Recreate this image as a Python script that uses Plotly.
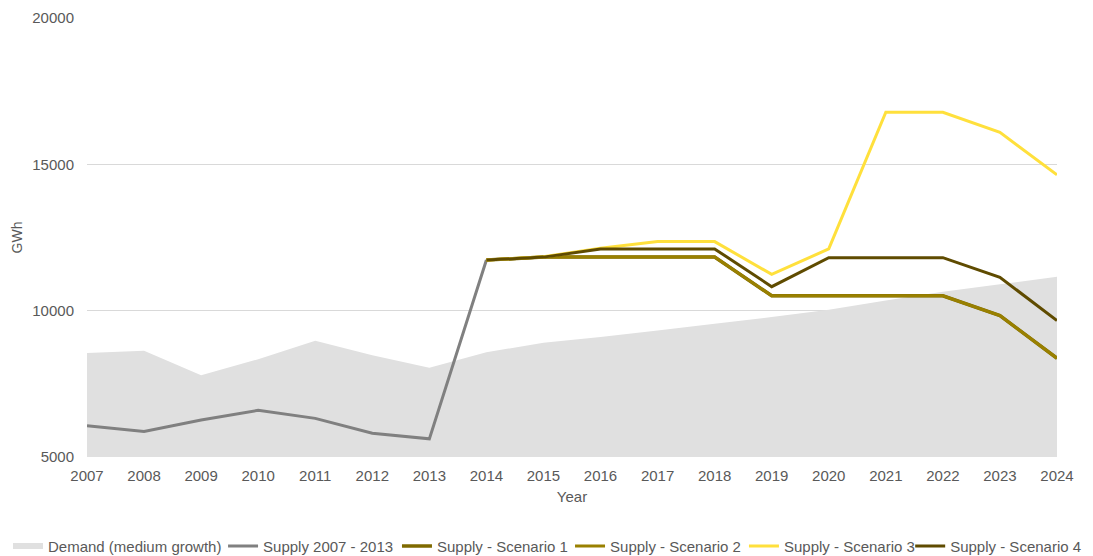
import plotly.graph_objects as go

years = list(range(2007, 2025))
demand = [8555, 8630, 7790, 8340, 8975, 8475, 8050, 8580, 8900,
          9100, 9320, 9550, 9780, 10030, 10350, 10650, 10900, 11160]

hist_years = list(range(2007, 2015))
supply_hist = [6070, 5870, 6265, 6595, 6320, 5810, 5620, 11730]

scen_years = list(range(2014, 2025))
scenario_1 = [11730, 11830, 11830, 11830, 11830, 10510, 10510, 10510, 10510, 9830, 8375]
scenario_2 = [11730, 11830, 11830, 11830, 11830, 10510, 10510, 10510, 10510, 9830, 8375]
scenario_3 = [11730, 11845, 12130, 12360, 12360, 11240, 12110, 16780, 16780, 16095, 14640]
scenario_4 = [11730, 11830, 12110, 12110, 12110, 10820, 11810, 11810, 11810, 11140, 9660]

fig = go.Figure()
fig.add_trace(go.Scatter(x=years, y=demand, name="Demand (medium growth)",
                         fill="tozeroy", fillcolor="#E0E0E0", mode="none",
                         legend="legend"))
fig.add_trace(go.Scatter(x=hist_years, y=supply_hist, name="Supply 2007 - 2013",
                         mode="lines", line=dict(color="#808080", width=3),
                         legend="legend2"))
fig.add_trace(go.Scatter(x=scen_years, y=scenario_1, name="Supply - Scenario 1",
                         mode="lines", line=dict(color="#7F6A00", width=3.5),
                         legend="legend3"))
fig.add_trace(go.Scatter(x=scen_years, y=scenario_2, name="Supply - Scenario 2",
                         mode="lines", line=dict(color="#998000", width=3),
                         legend="legend4"))
fig.add_trace(go.Scatter(x=scen_years, y=scenario_3, name="Supply - Scenario 3",
                         mode="lines", line=dict(color="#FFE03C", width=3),
                         legend="legend5"))
fig.add_trace(go.Scatter(x=scen_years, y=scenario_4, name="Supply - Scenario 4",
                         mode="lines", line=dict(color="#5F4B00", width=3),
                         legend="legend6"))


def legend_at(x):
    # one legend per entry so the row never wraps
    return dict(orientation="h", xref="container", yref="container",
                x=x, xanchor="left", y=0.018, yanchor="middle",
                font=dict(size=15), bgcolor="rgba(0,0,0,0)")


# the page puts the figure 8px in from the top-left corner
fig.update_layout(
    width=1085, height=548,
    paper_bgcolor="white", plot_bgcolor="white",
    font=dict(family="Liberation Sans, Arial, sans-serif", size=15, color="#595959"),
    margin=dict(l=79, r=36, t=10, b=99),
    xaxis=dict(range=[2007, 2024], dtick=1, showgrid=False, zeroline=False,
               automargin=False, ticks="", showline=False, ticklabelstandoff=8,
               title=dict(text="Year", font=dict(size=15), standoff=8)),
    yaxis=dict(range=[5000, 20000], dtick=5000, tickformat="d",
               gridcolor="#D9D9D9", gridwidth=1, automargin=False,
               zeroline=False, ticks="", ticklabelstandoff=12,
               title=dict(text="GWh", font=dict(size=14), standoff=6)),
    legend=legend_at(0.0),
    legend2=legend_at(0.1982),
    legend3=legend_at(0.3585),
    legend4=legend_at(0.518),
    legend5=legend_at(0.6783),
    legend6=legend_at(0.8315),
    showlegend=True,
)

fig.write_html("out.html")
